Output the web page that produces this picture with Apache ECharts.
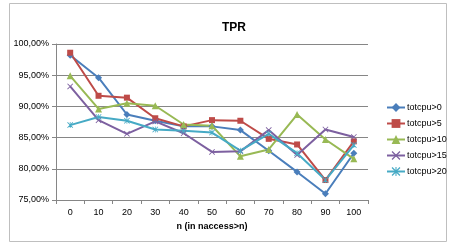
<!DOCTYPE html>
<html><head><meta charset="utf-8">
<script src="https://cdn.jsdelivr.net/npm/echarts@6/dist/echarts.min.js"></script>
<style>html,body{margin:0;padding:0;background:#fff}#c{width:457px;height:252px}</style>
</head><body><div id="c"></div>
<script>
var categories = ['0','10','20','30','40','50','60','70','80','90','100'];
var seriesNames = ['totcpu>0','totcpu>5','totcpu>10','totcpu>15','totcpu>20'];
var s0 = [98.2, 94.6, 88.7, 87.7, 86.8, 86.8, 86.2, 82.9, 79.5, 76.0, 82.5];
var s5 = [98.6, 91.7, 91.4, 88.1, 86.8, 87.8, 87.7, 84.8, 83.9, 78.2, 84.4];
var s10 = [94.9, 89.6, 90.5, 90.1, 87.1, 86.9, 82.0, 83.1, 88.7, 84.7, 81.6];
var s15 = [93.2, 87.8, 85.6, 87.6, 85.7, 82.7, 82.8, 86.2, 82.2, 86.3, 85.1];
var s20 = [87.0, 88.3, 87.7, 86.3, 86.1, 85.8, 82.9, 85.6, 82.5, 78.2, 83.8];
var yMin = 75, yMax = 100, yStep = 5;

var colors = ['#4A7EBB','#BE4B48','#98B954','#7D60A0','#46AAC5'];
var symbols = ['diamond','rect','triangle', 'path://M1,0L5,4L9,0L10,1L6,5L10,9L9,10L5,6L1,10L0,9L4,5L0,1Z', 'path://M1,0L5,4L9,0L10,1L6,5L10,9L9,10L5,6L1,10L0,9L4,5L0,1ZM4.4,0H5.6V10H4.4Z'];
var sizes = [7,6,7,6,6];
var data = [s0,s5,s10,s15,s20];

var chart = echarts.init(document.getElementById('c'));
var font = 'Liberation Sans';
chart.setOption({
  animation:false,
  graphic:[{type:'rect',shape:{x:9.5,y:3.5,width:437,height:238},style:{fill:'none',stroke:'#BFBFBF',lineWidth:1}}],
  title:{text:'TPR',left:229,top:17,textAlign:'center',textStyle:{fontFamily:font,fontSize:12,fontWeight:'bold',color:'#000'}},
  legend:{orient:'vertical',left:381,top:98,itemGap:7,itemWidth:18,itemHeight:11,
    textStyle:{fontFamily:font,fontSize:9,color:'#000',padding:[0,0,0,-3]},
    data:seriesNames},
  grid:{left:56,top:44,width:312,height:156},
  xAxis:{type:'category',data:categories,boundaryGap:true,
    name:'n (in naccess>n)',nameLocation:'middle',nameGap:22,
    nameTextStyle:{fontFamily:font,fontSize:9,fontWeight:'bold',color:'#000'},
    axisLine:{lineStyle:{color:'#868686'}},
    axisTick:{show:true,length:4,lineStyle:{color:'#868686'}},
    axisLabel:{fontFamily:font,fontSize:9,color:'#000',margin:8}},
  yAxis:{type:'value',min:yMin,max:yMax,interval:yStep,
    axisLine:{show:true,lineStyle:{color:'#868686'}},
    axisTick:{show:true,length:4,lineStyle:{color:'#868686'}},
    splitLine:{lineStyle:{color:'#868686'}},
    axisLabel:{fontFamily:font,fontSize:9,color:'#000',margin:7,
      formatter:function(v){return v.toFixed(2).replace('.',',')+'%';}}},
  series:data.map(function(d,i){return {
    name:seriesNames[i],type:'line',data:d,symbol:symbols[i],symbolSize:sizes[i],
    itemStyle:{color:colors[i]},lineStyle:{color:colors[i],width:2}};})
});
</script></body></html>
